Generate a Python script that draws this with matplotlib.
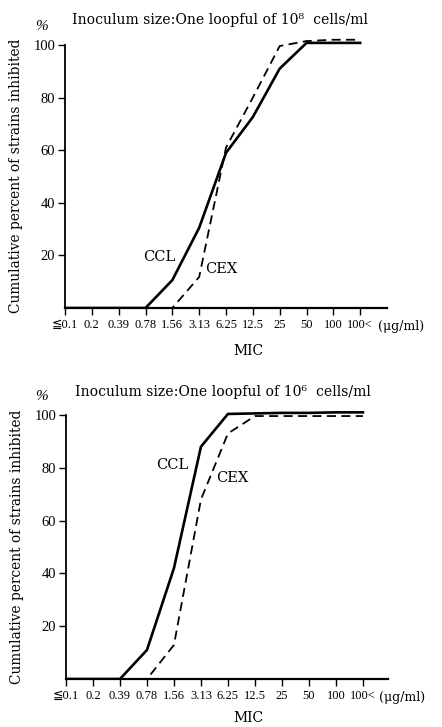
import matplotlib
matplotlib.use("Agg")
import matplotlib.pyplot as plt

plt.rcParams['font.family'] = ['Liberation Serif', 'DejaVu Serif', 'DejaVu Sans']
WIDE = ['DejaVu Serif', 'DejaVu Sans']

categories = ["≦0.1", "0.2", "0.39", "0.78", "1.56", "3.13", "6.25",
              "12.5", "25", "50", "100", "100<"]
y_ticks = [20, 40, 60, 80, 100]

top_title = "Inoculum size:One loopful of 10⁸  cells/ml"
top_ccl = [0, 0, 0, 0, 10.6, 30.5, 59, 72.6, 91, 100.8, 100.8, 100.8]
top_cex = [0, 0, 0, 0, 0, 11.8, 61, 80, 99.6, 101.5, 102, 102]

bot_title = "Inoculum size:One loopful of 10⁶  cells/ml"
bot_ccl = [0, 0, 0, 11, 42, 88, 100.4, 100.6, 100.8, 100.8, 101, 101]
bot_cex = [0, 0, 0, 0, 12.9, 68, 93, 99.6, 99.6, 99.6, 99.6, 99.6]

W, H = 442, 727
fig = plt.figure(figsize=(W / 100, H / 100), dpi=100)


def px_axes(left, right, y0, y100):
    ppu = (y0 - y100) / 100.0
    ytop = y100 - 4 * ppu
    return fig.add_axes([left / W, 1 - y0 / H, (right - left) / W, (y0 - ytop) / H])


def draw(ax, ccl, cex, title, title_xy, pct_xy, ccl_xy, cex_xy, mic_y, unit_xy, xmax):
    x = list(range(len(categories)))
    ax.plot(x, ccl, color='black', lw=1.9, solid_joinstyle='miter')
    ax.plot(x, cex, color='black', lw=1.3, ls=(0, (5, 3)))
    ax.set_xlim(0, xmax)
    ax.set_ylim(0, 104)
    for s in ['top', 'right']:
        ax.spines[s].set_visible(False)
    ax.spines['left'].set_bounds(0, 100)
    ax.spines['left'].set_linewidth(1.3)
    ax.spines['bottom'].set_linewidth(1.6)
    ax.set_xticks(x)
    ax.set_xticklabels(categories, fontsize=9)
    ax.set_yticks(y_ticks)
    ax.set_yticklabels([str(v) for v in y_ticks], fontsize=10.5)
    ax.tick_params(axis='both', direction='out', length=5, width=1, color='black')
    ax.tick_params(axis='x', pad=3)
    ax.tick_params(axis='y', pad=2)
    ax.set_ylabel("Cumulative percent of strains inhibited", fontsize=9.9,
                  family=WIDE)
    ax.yaxis.set_label_coords(-0.13, 0.483)
    fig.text(title_xy[0] / W, 1 - title_xy[1] / H, title, fontsize=10.1,
             ha='center', va='center', family=WIDE)
    fig.text(pct_xy[0] / W, 1 - pct_xy[1] / H, "%", fontsize=11,
             ha='center', va='center', style='italic')
    fig.text(unit_xy[0] / W, 1 - unit_xy[1] / H, "(μg/ml)", fontsize=9,
             ha='left', va='center', family=WIDE)
    fig.text(248 / W, 1 - mic_y / H, "MIC", fontsize=10, ha='center', va='center',
             family=WIDE)
    ax.text(ccl_xy[0], ccl_xy[1], "CCL", fontsize=10.5, ha='center', va='center',
            family=WIDE)
    ax.text(cex_xy[0], cex_xy[1], "CEX", fontsize=10.5, ha='center', va='center',
            family=WIDE)


ax1 = px_axes(65, 387, 308, 45)
draw(ax1, top_ccl, top_cex, top_title, (220, 20), (42, 27),
     (3.5, 19.5), (5.82, 15), 351, (378, 327), 12.0)

ax2 = px_axes(66, 388, 679, 415)
draw(ax2, bot_ccl, bot_cex, bot_title, (223, 392), (42, 397),
     (3.93, 81), (6.15, 76), 718, (379, 697), 11.93)

fig.savefig("out.png", dpi=100)
